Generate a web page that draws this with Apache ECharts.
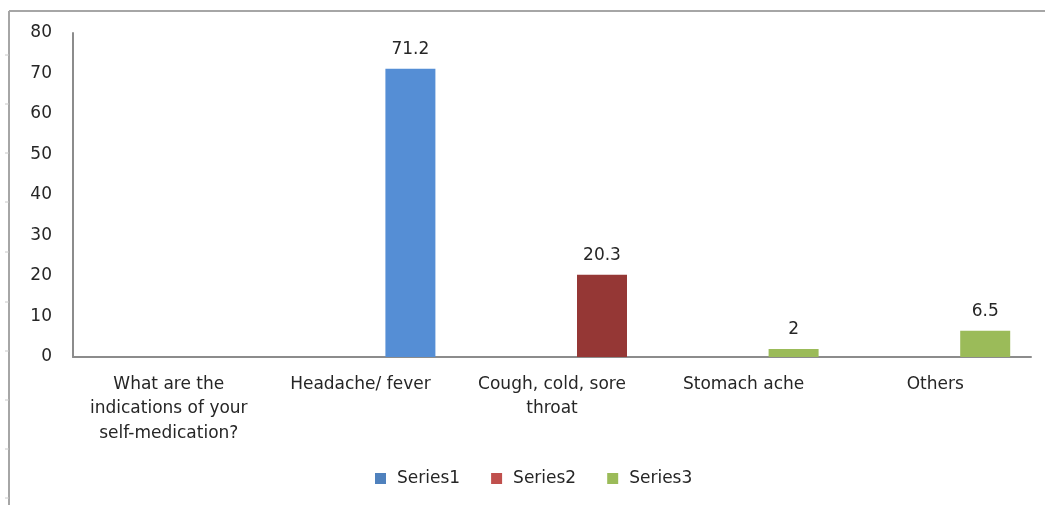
<!DOCTYPE html>
<html>
<head>
<meta charset="utf-8">
<script src="https://cdn.jsdelivr.net/npm/echarts@6/dist/echarts.min.js"></script>
<style>
html,body{margin:0;padding:0;background:#fff;}
#main{width:1045px;height:505px;}
</style>
</head>
<body>
<div id="main"></div>
<script>
var categories = ["What are the\nindications of your\nself-medication?", "Headache/ fever", "Cough, cold, sore\nthroat", "Stomach ache", "Others"];
var series1 = [null, 71.2, null, null, null];
var series2 = [null, null, 20.3, null, null];
var series3 = [null, null, null, 2, 6.5];
var yTicks = [0, 10, 20, 30, 40, 50, 60, 70, 80];
var seriesNames = ["Series1", "Series2", "Series3"];

var FONT = "DejaVu Sans";
var TXT = '#262626';
var chart = echarts.init(document.getElementById('main'));

var leftTicks = [55, 104, 153, 202, 252, 302, 351, 400, 449, 498];
var graphics = [
  {type:'line', shape:{x1:9, y1:11, x2:1045, y2:11}, style:{stroke:'#a6a6a6', lineWidth:2}},
  {type:'line', shape:{x1:9, y1:11, x2:9, y2:505}, style:{stroke:'#a6a6a6', lineWidth:2}}
];
leftTicks.forEach(function(y){
  graphics.push({type:'line', shape:{x1:5, y1:y, x2:9, y2:y}, style:{stroke:'#c8c8c8', lineWidth:1}});
});

function labelCfg(){
  return {show:true, position:'top', distance:11, color:TXT, fontFamily:FONT, fontSize:17,
    formatter:function(p){return p.value;}};
}

var option = {
  animation:false,
  backgroundColor:'#fff',
  graphic: graphics,
  grid:{left:73, right:14, top:33, bottom:148, containLabel:false},
  legend:{
    bottom:13, left:370, itemWidth:11, itemHeight:11, itemGap:31, icon:'rect',
    textStyle:{fontFamily:FONT, fontSize:17, color:TXT, padding:[0,0,0,6]},
    data:[
      {name:seriesNames[0], itemStyle:{color:'#4F81BD'}},
      {name:seriesNames[1], itemStyle:{color:'#C0504D'}},
      {name:seriesNames[2], itemStyle:{color:'#9BBB59'}}
    ]
  },
  xAxis:{
    type:'category', data:categories,
    axisLine:{lineStyle:{color:'#8c8c8c', width:2}},
    axisTick:{show:false},
    axisLabel:{interval:0, margin:15, color:TXT, fontFamily:FONT, fontSize:17, lineHeight:24.5}
  },
  yAxis:{
    type:'value', min:0, max:80, interval:10,
    axisLine:{show:true, lineStyle:{color:'#8c8c8c', width:2}},
    axisTick:{show:false},
    splitLine:{show:false},
    axisLabel:{margin:21, color:TXT, fontFamily:FONT, fontSize:17,
      formatter:function(v){return yTicks.indexOf(v) >= 0 ? String(v) : '';}}
  },
  series:[
    {name:'_p1', type:'bar', data:[null,null,null,null,null], barWidth:50, barGap:'0%', stack:'p1', legendHoverLink:false},
    {name:'_p2', type:'bar', data:[null,null,null,null,null], barWidth:50, barGap:'0%', stack:'p2', legendHoverLink:false},
    {name:seriesNames[0], type:'bar', data:series1, barWidth:50, barGap:'0%', stack:'real', itemStyle:{color:'#558ED5'}, label:labelCfg()},
    {name:seriesNames[1], type:'bar', data:series2, barWidth:50, barGap:'0%', stack:'real', itemStyle:{color:'#953735'}, label:labelCfg()},
    {name:seriesNames[2], type:'bar', data:series3, barWidth:50, barGap:'0%', stack:'real', itemStyle:{color:'#9BBB59'}, label:labelCfg()}
  ]
};
chart.setOption(option);
</script>
</body>
</html>
